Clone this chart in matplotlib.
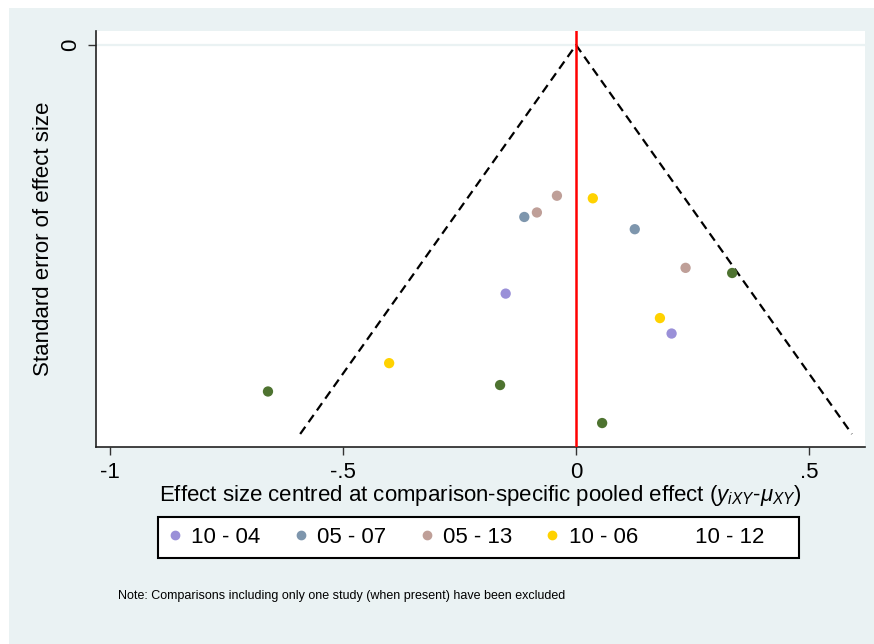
import matplotlib
matplotlib.use("Agg")
import matplotlib.pyplot as plt
from matplotlib.patches import Rectangle
from matplotlib.lines import Line2D

plt.rcParams['font.family'] = ['Liberation Sans', 'DejaVu Sans']
plt.rcParams['mathtext.fontset'] = 'custom'
plt.rcParams['mathtext.rm'] = 'Liberation Sans'
plt.rcParams['mathtext.it'] = 'Liberation Sans:italic'

# Data: centred effect sizes (x) and standard errors (se) per comparison
comparisons = ["10 - 04", "05 - 07", "05 - 13", "10 - 06", "10 - 12"]
colors = ["#9a90d8", "#7e96ad", "#bf9f98", "#ffd200", "#4e7330"]
x_10_04 = [-0.151, 0.205]
se_10_04 = [0.193, 0.224]
x_05_07 = [-0.111, 0.126]
se_05_07 = [0.1335, 0.143]
x_05_13 = [-0.041, -0.084, 0.235]
se_05_13 = [0.117, 0.130, 0.173]
x_10_06 = [0.036, 0.180, -0.401]
se_10_06 = [0.119, 0.212, 0.247]
x_10_12 = [0.335, -0.163, 0.056, -0.661]
se_10_12 = [0.177, 0.264, 0.2935, 0.269]
xs = [x_10_04, x_05_07, x_05_13, x_10_06, x_10_12]
ses = [se_10_04, se_05_07, se_05_13, se_10_06, se_10_12]
se_max = 0.302
xticks = [-1, -0.5, 0, 0.5]
xticklabels = ["-1", "-.5", "0", ".5"]

W, H = 874, 644
fig = plt.figure(figsize=(W / 100, H / 100), dpi=100)
fig.patch.set_facecolor("white")
bg = Rectangle((9 / W, 0), 1 - 9 / W, (H - 8) / H, transform=fig.transFigure,
               facecolor="#eaf2f3", edgecolor="none", zorder=-10)
fig.patches.append(bg)

ax = fig.add_axes([96 / W, 1 - 447 / H, (865 - 96) / W, (447 - 31) / H])
ax.set_facecolor("white")

ax.axhline(0, color="#eaf2f3", lw=1.6, zorder=1)
ax.plot([-1.96 * se_max, 0, 1.96 * se_max], [se_max, 0, se_max],
        color="black", ls=(0, (4, 2.5)), lw=1.6, zorder=2)
ax.axvline(0, color="#ff0000", lw=1.8, zorder=3)

for xv, sv, c in zip(xs, ses, colors):
    ax.scatter(xv, sv, s=55, color=c, edgecolors="none", zorder=4)

ax.set_xlim(-1.03, 0.62)
ax.set_ylim(0.3121, -0.0109)
ax.set_xticks(xticks)
ax.set_xticklabels(xticklabels)
ax.set_yticks([0])
ax.set_yticklabels(["0"], rotation=90, va="center")
ax.tick_params(axis="both", direction="out", length=6, width=1, labelsize=16,
               color="#333333", pad=5)
for s in ["top", "right"]:
    ax.spines[s].set_visible(False)
for s in ["left", "bottom"]:
    ax.spines[s].set_color("#222222")
    ax.spines[s].set_linewidth(1.2)

ax.set_xlabel(r"Effect size centred at comparison-specific pooled effect ($y_{iXY}$-$\mu_{XY}$)",
              fontsize=16, labelpad=0)
ax.set_ylabel("Standard error of effect size", fontsize=16)
ax.yaxis.set_label_coords(-0.054, 0.5)

handles = []
for i, (lab, c) in enumerate(zip(comparisons, colors)):
    if i < 4:
        handles.append(Line2D([], [], marker="o", ls="none", color=c, markersize=6))
    else:
        handles.append(Line2D([], [], marker="o", ls="none", color="none", markersize=6))
labels = comparisons[:-1] + [comparisons[-1] + "    "]
leg = fig.legend(handles, labels, loc="center",
                 bbox_to_anchor=(478.5 / W, 1 - 537.5 / H), ncol=5, fontsize=16,
                 frameon=True, fancybox=False, edgecolor="black", framealpha=1,
                 handletextpad=0.45, columnspacing=1.5, handlelength=0.6,
                 borderpad=0.45, borderaxespad=0)
leg.get_frame().set_linewidth(1.5)

fig.text(118 / W, 1 - 596 / H, "Note: Comparisons including only one study (when present) have been excluded",
         fontsize=9, va="center", ha="left")

fig.savefig("out.png", dpi=100)
